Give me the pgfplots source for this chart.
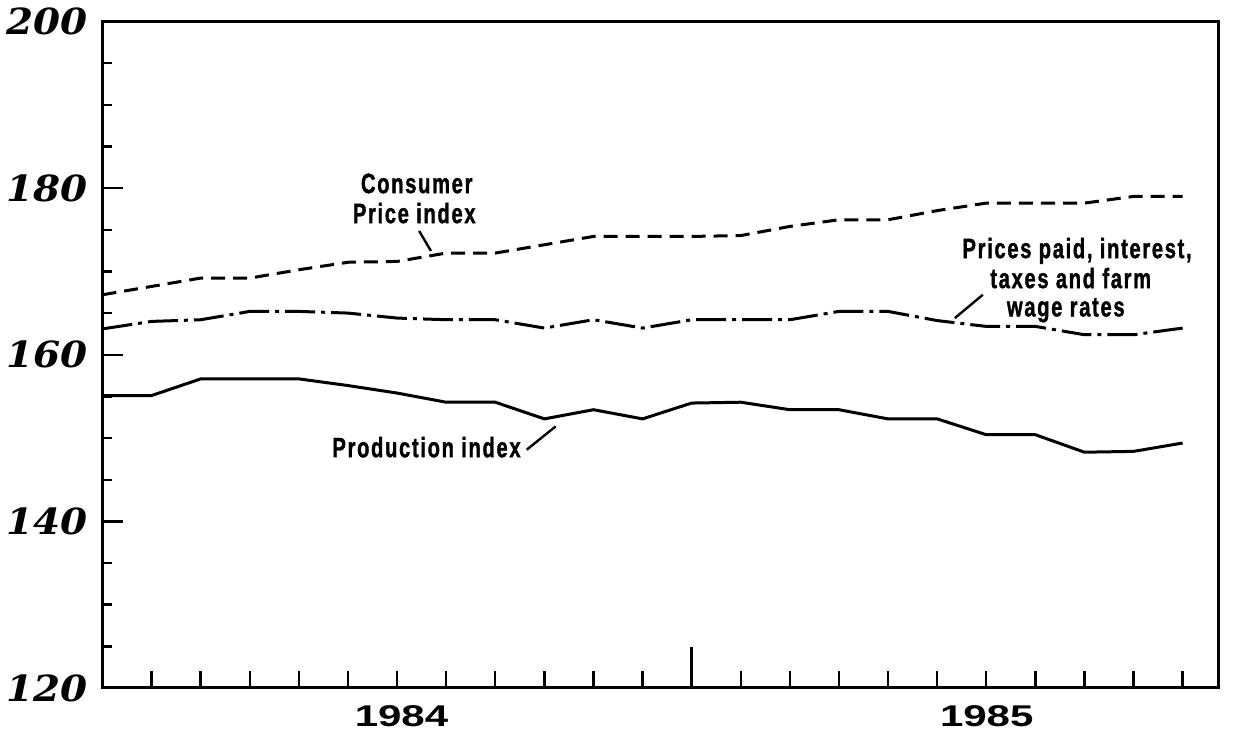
\documentclass[border=0pt]{standalone}
\usepackage{fontspec}
\setmainfont{Liberation Sans}
\newfontfamily\ynumfont[FakeStretch=1.08]{DejaVu Serif}
\newfontfamily\yearfont[FakeStretch=1.4]{Liberation Sans}
\newfontfamily\notefont[FakeStretch=0.72,LetterSpace=6,BoldFeatures={FakeBold=1.2}]{Liberation Sans}
\usepackage{pgfplots}
\pgfplotsset{compat=1.18}

\begin{document}
\begin{tikzpicture}
\begin{axis}[
    scale only axis,
    width=557.75pt,
    height=333.25pt,
    xmin=0, xmax=22.72,
    ymin=120, ymax=200,
    axis line style={black, line width=1.5pt},
    tick align=inside,
    xtick pos=bottom,
    ytick pos=left,
    xtick={1,...,11,13,14,...,22},
    xticklabels={},
    extra x ticks={12},
    extra x tick labels={},
    extra x tick style={xtick style={black, line width=1.2pt, /pgfplots/major tick length=20.5pt}},
    xtick style={black, line width=1.2pt, /pgfplots/major tick length=8.5pt},
    ytick={120,140,...,200},
    yticklabels={120,140,160,180,200},
    minor y tick num=3,
    ytick style={black, line width=1.2pt, /pgfplots/major tick length=10pt, /pgfplots/minor tick length=5pt},
    yticklabel style={font=\ynumfont\bfseries\itshape\fontsize{18pt}{20pt}\selectfont, inner sep=0pt, xshift=-7.25pt},
    clip=false,
]

% Consumer Price index
\addplot[black, line width=1.5pt, dash pattern=on 7pt off 4pt] coordinates {
    (0,167.2) (1,168.2) (2,169.2) (3,169.2) (4,170.2) (5,171.1) (6,171.2) (7,172.2)
    (8,172.2) (9,173.2) (10,174.2) (11,174.2) (12,174.2) (13,174.3) (14,175.4) (15,176.2)
    (16,176.2) (17,177.3) (18,178.2) (19,178.2) (20,178.2) (21,179.0) (22,179.0)
};
% Prices paid, interest, taxes and farm wage rates
\addplot[black, line width=1.5pt, dash pattern=on 15pt off 3pt on 2pt off 3pt] coordinates {
    (0,163.1) (1,164.0) (2,164.2) (3,165.2) (4,165.2) (5,165.0) (6,164.4) (7,164.2)
    (8,164.2) (9,163.2) (10,164.2) (11,163.2) (12,164.2) (13,164.2) (14,164.2) (15,165.2)
    (16,165.2) (17,164.1) (18,163.4) (19,163.4) (20,162.4) (21,162.4) (22,163.2)
};
% Production index
\addplot[black, line width=1.5pt] coordinates {
    (0,155.1) (1,155.1) (2,157.1) (3,157.1) (4,157.1) (5,156.3) (6,155.4) (7,154.3)
    (8,154.3) (9,152.3) (10,153.4) (11,152.3) (12,154.2) (13,154.3) (14,153.4) (15,153.4)
    (16,152.3) (17,152.3) (18,150.4) (19,150.4) (20,148.3) (21,148.4) (22,149.4)
};

\coordinate (sw) at (rel axis cs:0,0);
\coordinate (ne) at (rel axis cs:1,1);

% year labels
\node[anchor=north, inner sep=0pt, font=\yearfont\bfseries\fontsize{15pt}{16pt}\selectfont]
    at ([yshift=-8.5pt]axis cs:6.09,120) {1984};
\node[anchor=north, inner sep=0pt, font=\yearfont\bfseries\fontsize{15pt}{16pt}\selectfont]
    at ([yshift=-8.5pt]axis cs:18.01,120) {1985};

% annotations
\begin{scope}[every node/.style={anchor=base, inner sep=0pt, font=\notefont\bfseries\fontsize{14pt}{15pt}\selectfont}]
\node at (axis cs:6.4,179.4) {Consumer};
\node at (axis cs:6.35,175.8) {Price index};
\node at (axis cs:19.85,171.6) {Prices paid, interest,};
\node at (axis cs:19.72,168.0) {taxes and farm};
\node at (axis cs:19.62,164.6) {wage rates};
\node at (axis cs:6.6,147.7) {Production index};
\end{scope}
\draw[black, line width=1.2pt] (axis cs:6.45,174.85) -- (axis cs:6.69,172.46);
\draw[black, line width=1.2pt] (axis cs:17.93,167.2) -- (axis cs:17.36,164.4);
\draw[black, line width=1.2pt] (axis cs:8.64,148.6) -- (axis cs:9.23,151.4);
\end{axis}
\pgfresetboundingbox
\path[use as bounding box] ([shift={(-51.25pt,-22.5pt)}]sw) rectangle ([shift={(9.5pt,10.75pt)}]ne);
\end{tikzpicture}
\end{document}
